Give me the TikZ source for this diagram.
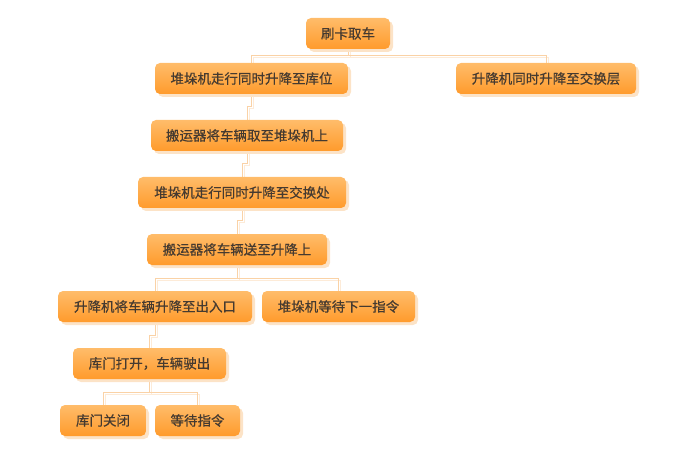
\documentclass[tikz,border=0pt]{standalone}
\usepackage{fontspec}
\setmainfont{Noto Sans CJK SC}[FakeBold=0.5]
\usetikzlibrary{shadows,calc}
\definecolor{boxtop}{HTML}{FFBC6A}
\definecolor{boxbot}{HTML}{FF9B2C}
\definecolor{boxtxt}{HTML}{453A30}
\definecolor{linec}{HTML}{FAD2A6}
\definecolor{lineshadow}{HTML}{FDEBD8}
\definecolor{shadowc}{HTML}{FCE3C7}
\tikzset{
  stepbox/.style={rounded corners=5pt, top color=boxtop, bottom color=boxbot,
    draw=none, minimum height=31pt, inner sep=0pt, text=boxtxt,
    font=\fontsize{13.5}{16}\selectfont,
    drop shadow={shadow xshift=3pt, shadow yshift=-3pt, fill=shadowc, opacity=1}},
  conn/.style={draw=linec, line width=1pt},
  connshadow/.style={draw=lineshadow, line width=1pt, transform canvas={xshift=2pt,yshift=-2pt}},
  slot/.style={minimum height=31pt, inner sep=0pt},
}
\newcommand{\mystep}[4]{% name, center, width, text
  \node[stepbox, minimum width=#3pt] (#1) at #2 {#4};}
\newcommand{\myconn}[2]{%
  \draw[connshadow] (#1.south) -- ($(#1.south)!.5!(#1.south|-#2.north)$) -| (#2.north);
  \draw[conn] (#1.south) -- ($(#1.south)!.5!(#1.south|-#2.north)$) -| (#2.north);}
\begin{document}
\begin{tikzpicture}[x=1pt,y=-1pt]
\useasboundingbox (0,0) rectangle (695,462);
% slots for connectors (same geometry as the boxes)
\path (348,33.5) node[slot,minimum width=84pt] (a0) {};
\path (251.5,78.5) node[slot,minimum width=193pt] (b0) {};
\path (546,78.5) node[slot,minimum width=180pt] (c0) {};
\path (247,135.5) node[slot,minimum width=192pt] (d0) {};
\path (242,192.5) node[slot,minimum width=208pt] (e0) {};
\path (237,249.5) node[slot,minimum width=180pt] (f0) {};
\path (155,306.5) node[slot,minimum width=194pt] (g0) {};
\path (338.5,306.5) node[slot,minimum width=153pt] (h0) {};
\path (149.5,363.5) node[slot,minimum width=153pt] (i0) {};
\path (103,420.5) node[slot,minimum width=86pt] (j0) {};
\path (197.5,420.5) node[slot,minimum width=85pt] (k0) {};
\myconn{a0}{b0}
\myconn{a0}{c0}
\myconn{b0}{d0}
\myconn{d0}{e0}
\myconn{e0}{f0}
\myconn{f0}{g0}
\myconn{f0}{h0}
\myconn{g0}{i0}
\myconn{i0}{j0}
\myconn{i0}{k0}
% boxes
\mystep{a}{(348,33.5)}{84}{刷卡取车}
\mystep{b}{(251.5,78.5)}{193}{堆垛机走行同时升降至库位}
\mystep{c}{(546,78.5)}{180}{升降机同时升降至交换层}
\mystep{d}{(247,135.5)}{192}{搬运器将车辆取至堆垛机上}
\mystep{e}{(242,192.5)}{208}{堆垛机走行同时升降至交换处}
\mystep{f}{(237,249.5)}{180}{搬运器将车辆送至升降上}
\mystep{g}{(155,306.5)}{194}{升降机将车辆升降至出入口}
\mystep{h}{(338.5,306.5)}{153}{堆垛机等待下一指令}
\mystep{i}{(149.5,363.5)}{153}{库门打开，车辆驶出}
\mystep{j}{(103,420.5)}{86}{库门关闭}
\mystep{k}{(197.5,420.5)}{85}{等待指令}
\end{tikzpicture}
\end{document}
